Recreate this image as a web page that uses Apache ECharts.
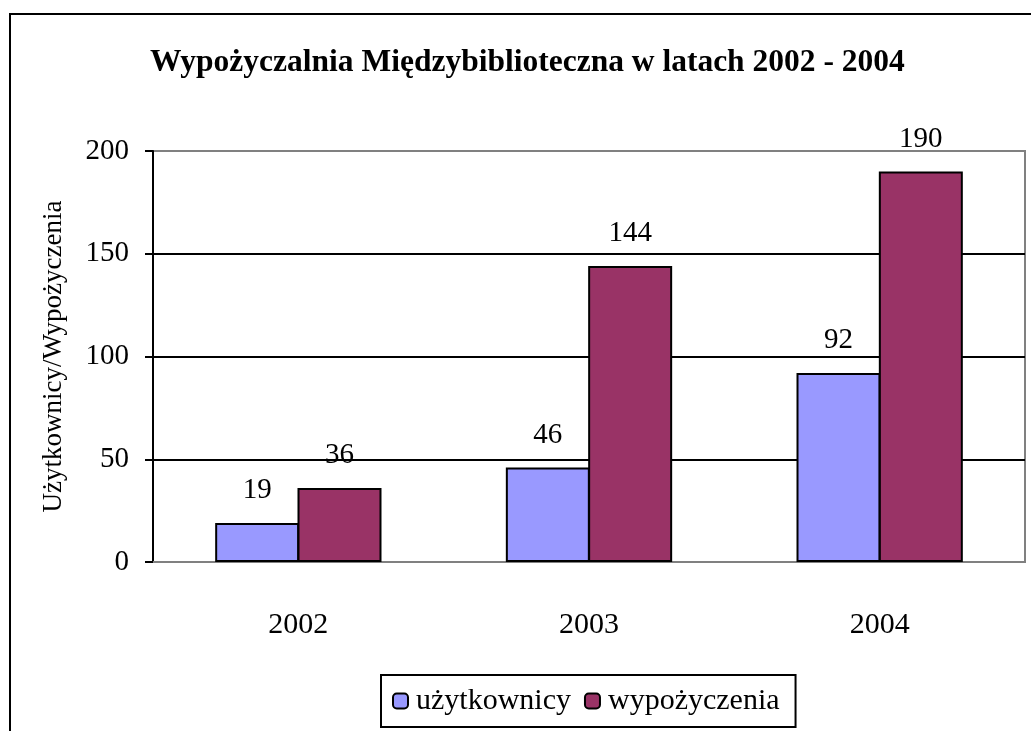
<!DOCTYPE html>
<html><head><meta charset="utf-8">
<script src="https://cdn.jsdelivr.net/npm/echarts@6/dist/echarts.min.js"></script>
<style>html,body{margin:0;padding:0;background:#fff}#c{width:1031px;height:731px}</style>
</head><body><div id="c"></div>
<script>
const categories = ['2002', '2003', '2004'];
const uzytkownicy = [19, 46, 92];
const wypozyczenia = [36, 144, 190];
const yTicks = [0, 50, 100, 150, 200];

const chart = echarts.init(document.getElementById('c'));
const serif = '"Liberation Serif", "DejaVu Serif", serif';
chart.setOption({
  animation: false,
  backgroundColor: '#fff',
  title: {
    text: 'Wypożyczalnia Międzybiblioteczna w latach 2002 - 2004',
    left: 145, top: 42,
    textStyle: { fontFamily: serif, fontWeight: 'bold', fontSize: 31.5, color: '#000' }
  },
  graphic: [{
    type: 'rect', shape: { x: 10, y: 14, width: 1040, height: 740 },
    style: { fill: null, stroke: '#000', lineWidth: 2 }, silent: true, z: -1
  }],
  legend: {
    left: 381, top: 675, itemWidth: 15, itemHeight: 15, itemGap: 13,
    padding: [11, 16, 11, 11],
    borderColor: '#000', borderWidth: 2,
    textStyle: { fontFamily: serif, fontSize: 30, color: '#000', padding: [0, 0, 0, 3] },
    data: ['użytkownicy', 'wypożyczenia']
  },
  grid: { left: 153, right: 6, top: 151, bottom: 169, show: true, borderColor: '#808080', borderWidth: 2 },
  xAxis: {
    type: 'category', data: categories,
    axisLine: { lineStyle: { color: '#808080', width: 2 } },
    axisTick: { show: false },
    axisLabel: { fontFamily: serif, fontSize: 30, color: '#000', margin: 48 }
  },
  yAxis: {
    type: 'value', min: yTicks[0], max: yTicks[yTicks.length - 1], interval: 50,
    name: 'Użytkownicy/Wypożyczenia', nameLocation: 'middle', nameGap: 86,
    nameTextStyle: { fontFamily: serif, fontSize: 27, color: '#000' },
    axisLine: { show: true, lineStyle: { color: '#000', width: 2 } },
    axisTick: { show: true, length: 8, lineStyle: { color: '#000', width: 2 } },
    axisLabel: { fontFamily: serif, fontSize: 29, color: '#000', margin: 24 },
    splitLine: { show: true, lineStyle: { color: ['#808080', '#000', '#000', '#000', '#808080'], width: 2 } }
  },
  series: [{
    name: 'użytkownicy', type: 'bar', data: uzytkownicy,
    barWidth: 84, barGap: '-2%',
    itemStyle: { color: '#9999FF', borderColor: '#000', borderWidth: 2 },
    label: { show: true, position: 'top', distance: 18, fontFamily: serif, fontSize: 29, color: '#000' }
  }, {
    name: 'wypożyczenia', type: 'bar', data: wypozyczenia,
    barWidth: 84, barGap: '-2%',
    itemStyle: { color: '#993366', borderColor: '#000', borderWidth: 2 },
    label: { show: true, position: 'top', distance: 18, fontFamily: serif, fontSize: 29, color: '#000' }
  }]
});
</script></body></html>
